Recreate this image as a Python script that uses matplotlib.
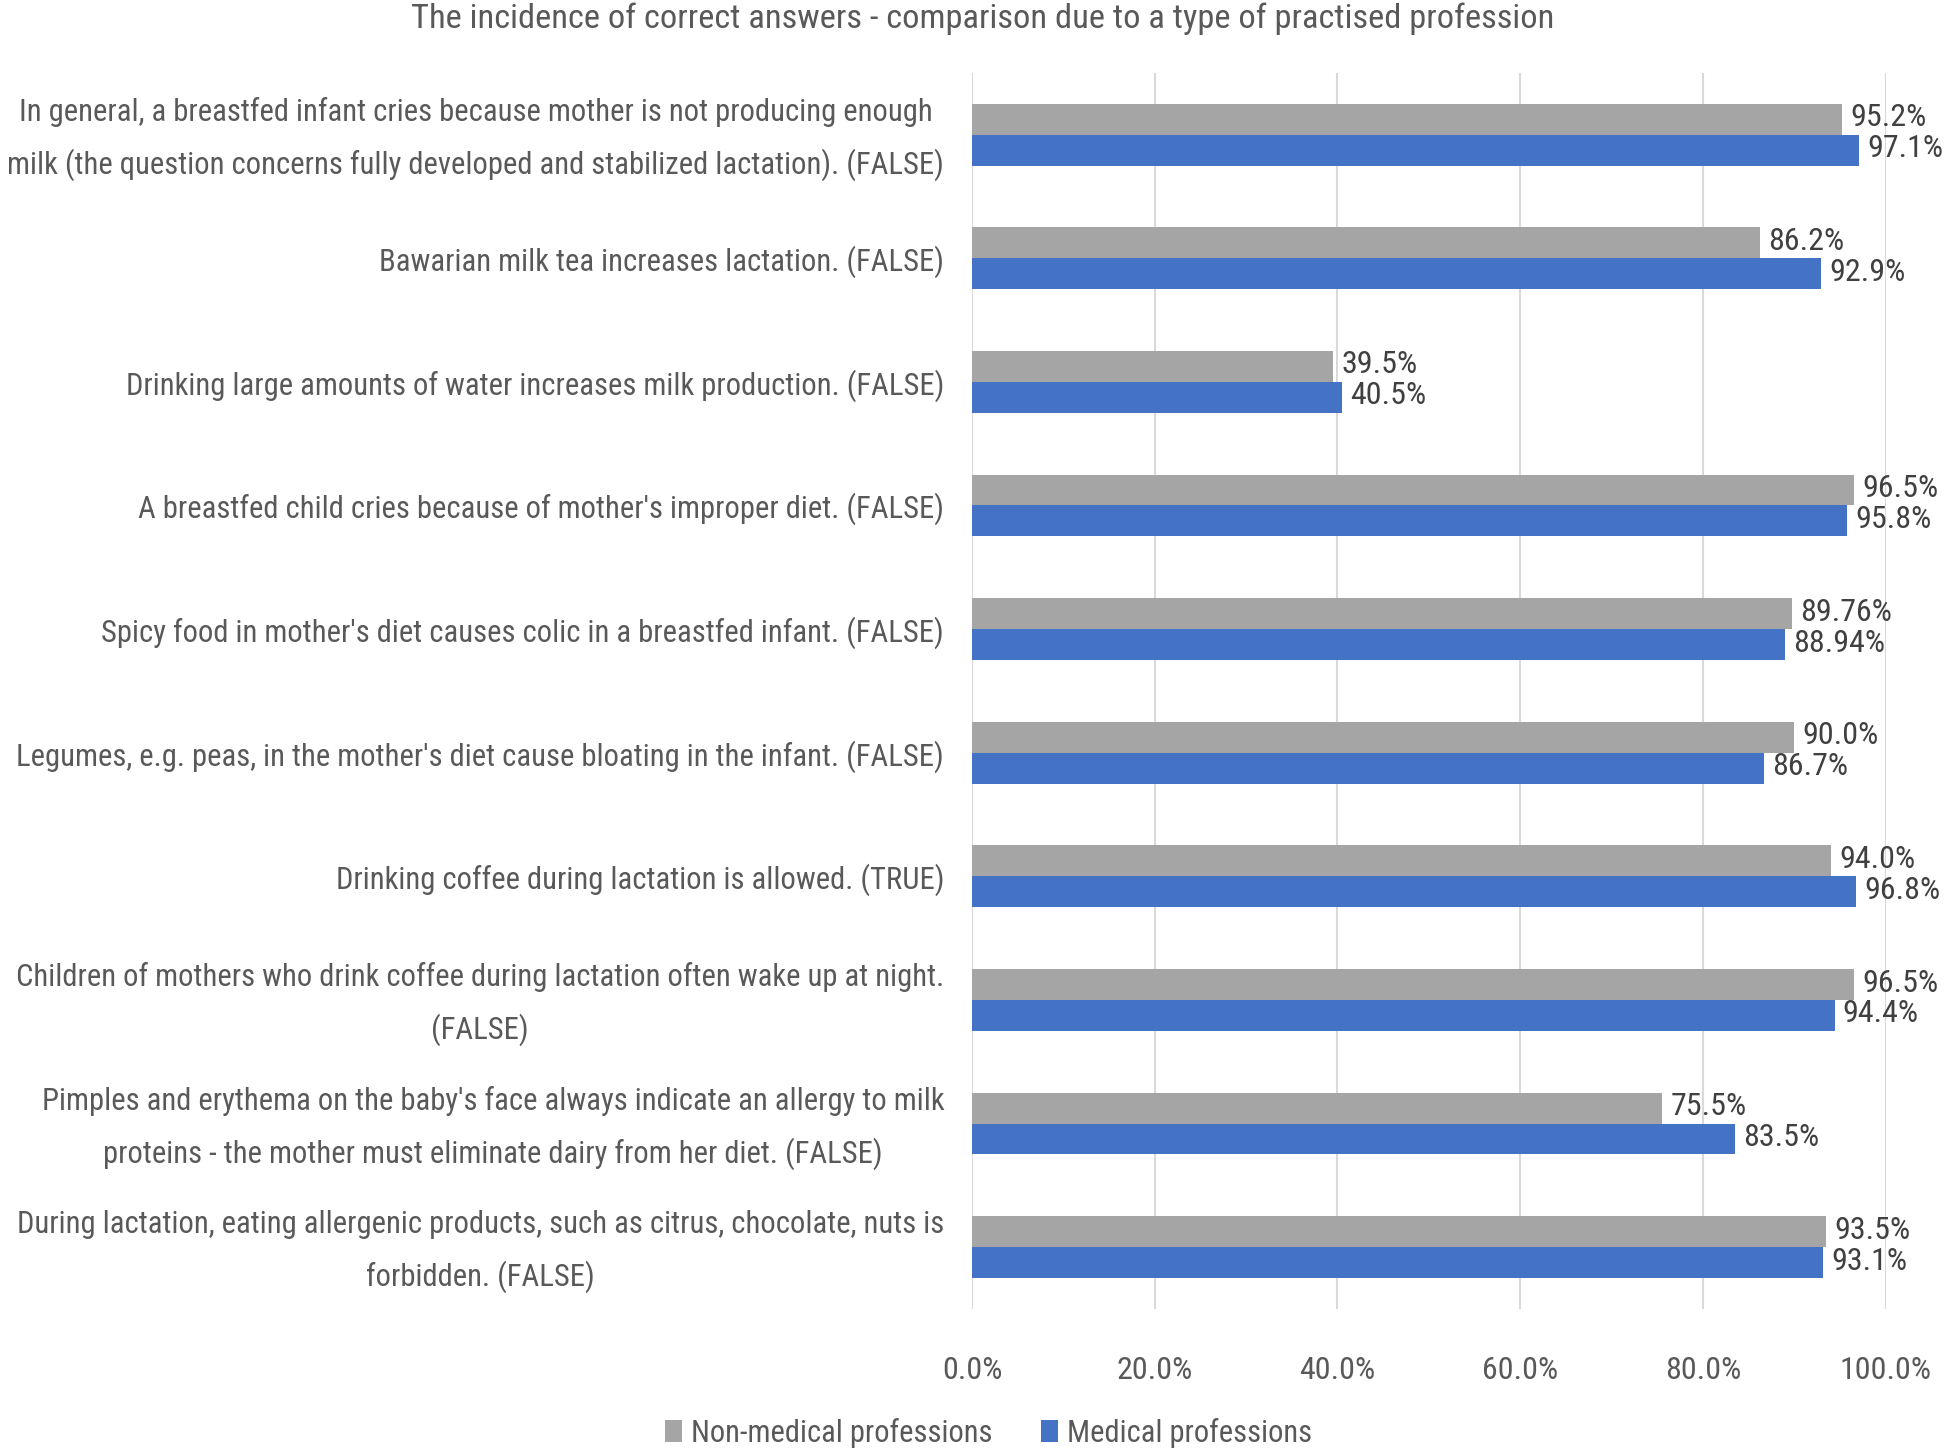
import matplotlib.pyplot as plt
import matplotlib.transforms as mtransforms
import numpy as np
from matplotlib import font_manager

# narrow font to mimic the squeezed Calibri of the original
names = set(f.name for f in font_manager.fontManager.ttflist)
font = 'Roboto Condensed' if 'Roboto Condensed' in names else 'Liberation Sans'
plt.rcParams['font.family'] = [font, 'DejaVu Sans']

questions = [
    "In general, a breastfed infant cries because mother is not producing enough\nmilk (the question concerns fully developed and stabilized lactation). (FALSE)",
    "Bawarian milk tea increases lactation. (FALSE)",
    "Drinking large amounts of water increases milk production. (FALSE)",
    "A breastfed child cries because of mother's improper diet. (FALSE)",
    "Spicy food in mother's diet causes colic in a breastfed infant. (FALSE)",
    "Legumes, e.g. peas, in the mother's diet cause bloating in the infant. (FALSE)",
    "Drinking coffee during lactation is allowed. (TRUE)",
    "Children of mothers who drink coffee during lactation often wake up at night.\n(FALSE)",
    "Pimples and erythema on the baby's face always indicate an allergy to milk\nproteins - the mother must eliminate dairy from her diet. (FALSE)",
    "During lactation, eating allergenic products, such as citrus, chocolate, nuts is\nforbidden. (FALSE)",
]
non_medical = [95.2, 86.2, 39.5, 96.5, 89.76, 90.0, 94.0, 96.5, 75.5, 93.5]
medical = [97.1, 92.9, 40.5, 95.8, 88.94, 86.7, 96.8, 94.4, 83.5, 93.1]
non_medical_lbl = ["95.2%", "86.2%", "39.5%", "96.5%", "89.76%", "90.0%", "94.0%", "96.5%", "75.5%", "93.5%"]
medical_lbl = ["97.1%", "92.9%", "40.5%", "95.8%", "88.94%", "86.7%", "96.8%", "94.4%", "83.5%", "93.1%"]

gray = '#A5A5A5'
blue = '#4472C4'
txt = '#595959'

fig = plt.figure(figsize=(19.46, 14.56), dpi=100)
ax = fig.add_axes([0.4995, 0.101, 0.969 - 0.4995, 0.849])

y = np.arange(len(questions))
h = 0.25
b1 = ax.barh(y - h / 2, non_medical, height=h, color=gray, label='Non-medical professions')
b2 = ax.barh(y + h / 2, medical, height=h, color=blue, label='Medical professions')

for bars, lbls in [(b1, non_medical_lbl), (b2, medical_lbl)]:
    for bar, s in zip(bars, lbls):
        ax.annotate(s, (bar.get_width(), bar.get_y() + bar.get_height() / 2),
                    xytext=(6, 1), textcoords='offset points', ha='left', va='center',
                    fontsize=23, color='#404040', annotation_clip=False)

ax.set_ylim(len(questions) - 0.5, -0.5)
ax.set_xlim(0, 100)
ax.set_xticks(np.arange(0, 101, 20))
ax.set_xticklabels([f'{v:.1f}%' for v in np.arange(0, 101, 20)])
ax.set_yticks(y)
ax.set_yticklabels(questions, linespacing=1.85, fontsize=22.1)
ax.tick_params(axis='both', length=0, colors=txt)
ax.tick_params(axis='x', labelsize=23, pad=34)
ax.tick_params(axis='y', pad=20)
# two-line labels: centre the lines, nudge the block up a little
shift = mtransforms.ScaledTranslation(0, 0.1, fig.dpi_scale_trans)
for t in ax.get_yticklabels():
    t.set_multialignment('center')
    if '\n' in t.get_text():
        t.set_transform(t.get_transform() + shift)
ax.grid(axis='x', color='#D9D9D9', linewidth=1.5)
ax.set_axisbelow(True)
for sp in ax.spines.values():
    sp.set_visible(False)

fig.suptitle('The incidence of correct answers - comparison due to a type of practised profession',
             x=0.505, y=0.998, va='top', fontsize=24.8, color=txt)
fig.legend(loc='center', bbox_to_anchor=(0.508, 0.016), ncol=2, frameon=False,
           fontsize=22, labelcolor=txt, handlelength=0.55, handleheight=0.7,
           handletextpad=0.3, columnspacing=1.6)

fig.savefig('out.png', dpi=100)
